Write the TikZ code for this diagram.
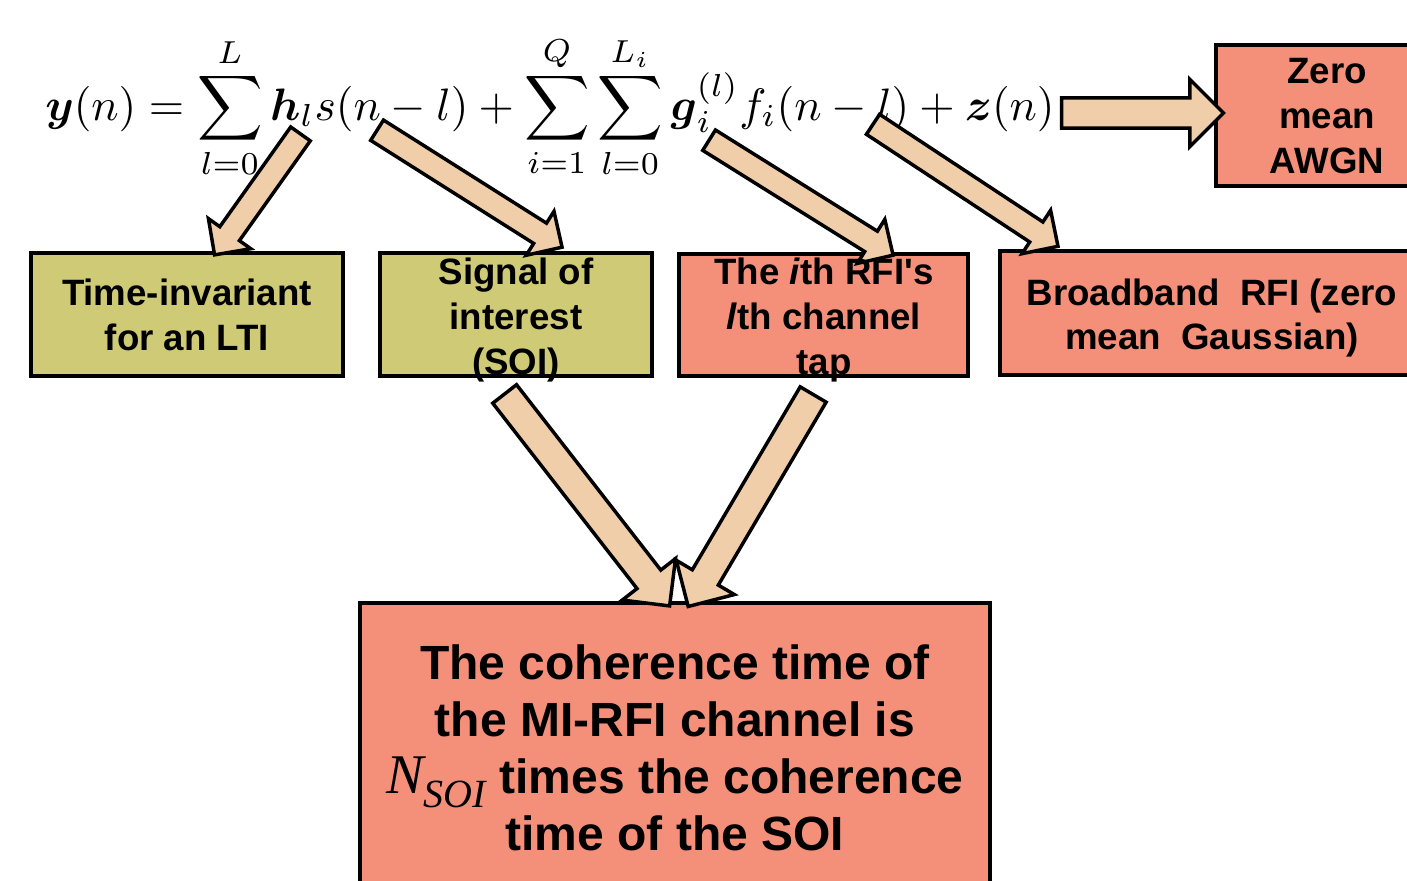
\documentclass[tikz,border=0pt]{standalone}
\usepackage{amsmath,amssymb}
\usepackage{graphicx}
\usepackage{fontspec}
\usepackage{xcolor}
\usepackage{tikz}
\usetikzlibrary{calc, shapes.arrows, positioning}
\newfontfamily\labelfont{Liberation Sans}
\newfontfamily\symfont{Liberation Serif}
\definecolor{arrowtan}{RGB}{240,206,170}
\definecolor{olivebox}{RGB}{207,202,118}
\definecolor{salmonbox}{RGB}{244,144,122}

\begin{document}
\begin{tikzpicture}[
  x=0.75pt, y=-0.75pt,
  box/.style={draw, line width=3pt, inner sep=0pt},
  ltibox/.style={box, fill=olivebox},
  rfibox/.style={box, fill=salmonbox},
  lbl/.style={align=center, inner sep=0pt,
              font=\labelfont\bfseries\fontsize{27.5}{33.5}\selectfont},
  biglbl/.style={align=center, inner sep=0pt,
                 font=\labelfont\bfseries\fontsize{36}{42.75}\selectfont},
  blockarr/.style={single arrow, draw, line width=2.6pt, fill=arrowtan,
                   inner xsep=0pt, inner ysep=7.7pt, minimum width=1pt,
                   single arrow head extend=10.5pt, single arrow head indent=0pt},
  widearr/.style={blockarr, inner ysep=10pt, single arrow head extend=14pt},
]
\useasboundingbox (0,0) rectangle (1407,881);
\clip (0,0) rectangle (1407,881);
% signal model
\node[inner sep=0pt, anchor=base west] (eqn) at (45,120)
  {\resizebox{757pt}{!}{$\displaystyle \boldsymbol{y}(n)=\sum_{l=0}^{L}\boldsymbol{h}_l s(n-l)
   +\sum_{i=1}^{Q}\sum_{l=0}^{L_i}\boldsymbol{g}_i^{(l)} f_i(n-l)+\boldsymbol{z}(n)$}};
\coordinate (hl) at (304,129);
\coordinate (sn) at (372,127);
\coordinate (gi) at (704,137);
\coordinate (fi) at (868,121);
\coordinate (zn) at (1054,113);
% boxes
\node[ltibox, minimum width=234pt, minimum height=92.25pt] (lti) at (187,314.5) {};
\node[ltibox, minimum width=204pt, minimum height=92.25pt] (soi) at (516,314.5) {};
\node[rfibox, minimum width=216.75pt, minimum height=91.5pt] (rfi) at (823.5,315) {};
\node[rfibox, minimum width=315pt, minimum height=93pt] (bb) at (1210,313) {};
\node[rfibox, minimum width=153pt, minimum height=105.75pt] (awgn) at (1318,115.5) {};
\node[rfibox, minimum width=472.5pt, minimum height=225pt] (coh) at (675,753) {};
\coordinate (lti-in) at (218,250);
\coordinate (soi-in) at (557,244);
\coordinate (rfi-in) at (888,252);
\coordinate (bb-in) at (1053,243);
\coordinate (awgn-in) at (1216,113);
\coordinate (soi-out) at (500,388);
\coordinate (rfi-out) at (817,388);
\coordinate (coh-in1) at (665,600);
\coordinate (coh-in2) at (692,600);
% block arrows
\foreach \a/\b in {hl/lti-in, sn/soi-in, gi/rfi-in, fi/bb-in}
  \path let \p1=($(\b)-(\a)$), \n1={atan2(\y1,\x1)}, \n2={veclen(\x1,\y1)} in
    node[blockarr, rotate=\n1, minimum height=\n2] (arr-\a) at ($(\a)!0.5!(\b)$) {};
\foreach \a/\b in {zn/awgn-in, soi-out/coh-in1, rfi-out/coh-in2}
  \path let \p1=($(\b)-(\a)$), \n1={atan2(\y1,\x1)}, \n2={veclen(\x1,\y1)} in
    node[widearr, rotate=\n1, minimum height=\n2] (arr-\a) at ($(\a)!0.5!(\b)$) {};
% labels
\node[lbl] (lti-txt) at (187,315) {Time-invariant\\for an LTI};
\node[lbl] (soi-txt) at (516,320) {Signal of\\interest\\(SOI)};
\node[lbl] (rfi-txt) at (824,320) {The \textit{i}th RFI's\\\textit{l}th channel\\tap};
\node[lbl] (bb-txt) at (1212,318) {Broadband\ \ RFI (zero\\mean\ \ Gaussian)};
\node[lbl] (awgn-txt) at (1327,116) {Zero\\mean\\AWGN};
\node[biglbl] (coh-txt) at (675,748)
  {The coherence time of\\the MI-RFI channel is\\{\symfont\mdseries\itshape\fontsize{42}{42}\selectfont N\raisebox{-0.25em}{\fontsize{30}{30}\selectfont SOI}}
   times the coherence\\time of the SOI};
\end{tikzpicture}
\end{document}
